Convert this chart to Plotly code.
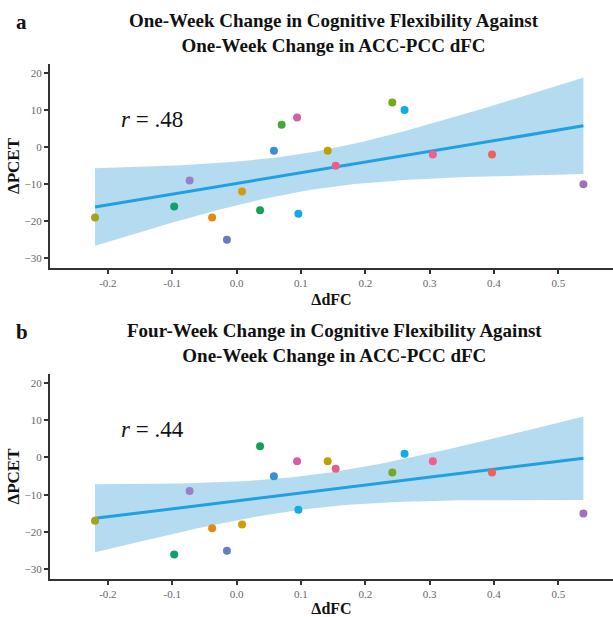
import numpy as np
import plotly.graph_objects as go

# ---- data ----
subjects = [f"S{i}" for i in range(1, 19)]
dfc = [-0.220, -0.097, -0.073, -0.038, -0.015, 0.0085, 0.0365, 0.058, 0.070,
       0.094, 0.096, 0.1416, 0.154, 0.242, 0.261, 0.305, 0.397, 0.539]
pcet_week1 = [-19, -16, -9, -19, -25, -12, -17, -1, 6, 8, -18, -1, -5, 12, 10, -2, -2, -10]
pcet_week4 = [-17, -26, -9, -19, -25, -18, 3, -5, None, -1, -14, -1, -3, -4, 1, -1, -4, -15]
subject_colors = ["#a3a31c", "#12a06a", "#9a80c6", "#e38a12", "#6a7cc0", "#d49c0c",
                  "#13a058", "#3a8fd0", "#45aa35", "#d45fa8", "#18a8e0", "#c0a000",
                  "#e8608a", "#77a822", "#10aee0", "#ee6090", "#ef6058", "#a070b8"]
r_labels = ["<i>r</i> = .48", "<i>r</i> = .44"]
titles = ["One-Week Change in Cognitive Flexibility Against<br>One-Week Change in ACC-PCC dFC",
          "Four-Week Change in Cognitive Flexibility Against<br>One-Week Change in ACC-PCC dFC"]
panel_letters = ["a", "b"]
t_crit = {16: 2.120, 15: 2.131}

W, H = 613, 617
SERIF = "Liberation Serif"

fig = go.Figure()

def py(p):
    return 1 - p / H

panels = [
    dict(ys=pcet_week1, xa="x", ya="y", dom=(py(268), py(64))),
    dict(ys=pcet_week4, xa="x2", ya="y2", dom=(py(579), py(374))),
]

for k, pnl in enumerate(panels):
    xs = np.array([x for x, y in zip(dfc, pnl["ys"]) if y is not None])
    ys = np.array([y for y in pnl["ys"] if y is not None], dtype=float)
    n = len(xs)
    b1, b0 = np.polyfit(xs, ys, 1)
    resid = ys - (b0 + b1 * xs)
    s = np.sqrt(np.sum(resid ** 2) / (n - 2))
    sxx = np.sum((xs - xs.mean()) ** 2)
    grid = np.linspace(xs.min(), xs.max(), 80)
    yhat = b0 + b1 * grid
    se = s * np.sqrt(1 / n + (grid - xs.mean()) ** 2 / sxx)
    t = t_crit[n - 2]
    lo, hi = yhat - t * se, yhat + t * se
    fig.add_trace(go.Scatter(x=np.concatenate([grid, grid[::-1]]),
                             y=np.concatenate([hi, lo[::-1]]),
                             fill="toself", fillcolor="rgba(120,190,230,0.55)",
                             line=dict(width=0), mode="lines", hoverinfo="skip",
                             showlegend=False, xaxis=pnl["xa"], yaxis=pnl["ya"]))
    fig.add_trace(go.Scatter(x=grid, y=yhat, mode="lines",
                             line=dict(color="#1ea0e2", width=3),
                             showlegend=False, xaxis=pnl["xa"], yaxis=pnl["ya"]))
    cols = [c for c, y in zip(subject_colors, pnl["ys"]) if y is not None]
    fig.add_trace(go.Scatter(x=xs, y=ys, mode="markers",
                             marker=dict(color=cols, size=8),
                             showlegend=False, xaxis=pnl["xa"], yaxis=pnl["ya"]))

axis_common = dict(showline=True, linecolor="#333333", linewidth=2, ticks="outside",
                   ticklen=4, tickwidth=1.5, tickcolor="#333333", showgrid=False,
                   zeroline=False, tickfont=dict(family=SERIF, size=11, color="#666666"))

xkw = dict(range=[-0.29, 0.585], tickvals=[-0.2, -0.1, 0.0, 0.1, 0.2, 0.3, 0.4, 0.5],
           ticktext=["-0.2", "-0.1", "0.0", "0.1", "0.2", "0.3", "0.4", "0.5"],
           domain=[50 / W, 1.0],
           title=dict(text="<b>ΔdFC</b>", font=dict(family=SERIF, size=16, color="#111"), standoff=6),
           **axis_common)
ykw = dict(range=[-32.6, 22.4], tickvals=[-30, -20, -10, 0, 10, 20],
           title=dict(text="<b>ΔPCET</b>", font=dict(family=SERIF, size=17, color="#111"), standoff=1),
           **axis_common)

fig.update_layout(
    width=W, height=H, margin=dict(l=0, r=0, t=0, b=0),
    plot_bgcolor="white", paper_bgcolor="white",
    xaxis=dict(anchor="y", **xkw),
    yaxis=dict(anchor="x", domain=list(panels[0]["dom"]), **ykw),
    xaxis2=dict(anchor="y2", **xkw),
    yaxis2=dict(anchor="x2", domain=list(panels[1]["dom"]), **ykw),
)

title_y = [20, 330]
for k in range(2):
    fig.add_annotation(text=f"<b>{titles[k]}</b>", xref="paper", yref="paper",
                       x=334 / W, y=py(title_y[k] - 12), xanchor="center", yanchor="top",
                       showarrow=False, align="center",
                       font=dict(family=SERIF, size=19, color="#111"))
    fig.add_annotation(text=f"<b>{panel_letters[k]}</b>", xref="paper", yref="paper",
                       x=14 / W, y=py(title_y[k] - 12), xanchor="left", yanchor="top",
                       showarrow=False, font=dict(family=SERIF, size=21, color="#111"))
    fig.add_annotation(text=r_labels[k], xref="x" if k == 0 else "x2",
                       yref="y" if k == 0 else "y2", x=-0.182, y=7.5,
                       xanchor="left", yanchor="middle", showarrow=False,
                       font=dict(family=SERIF, size=23, color="#111"))

fig.write_html("out.html")
